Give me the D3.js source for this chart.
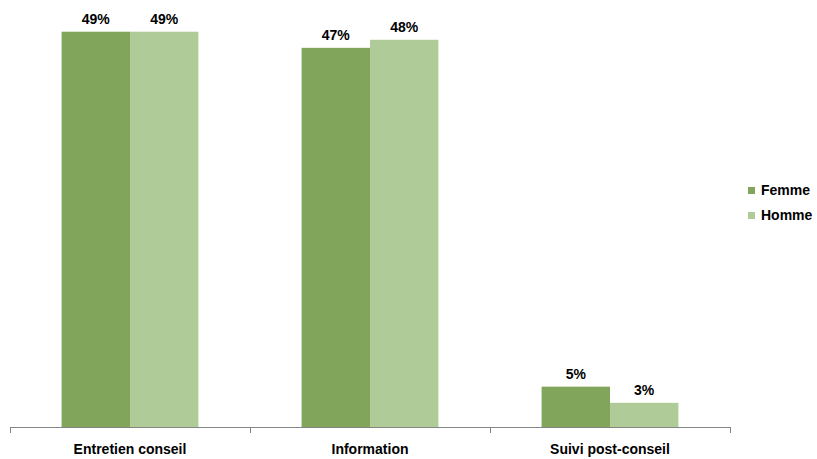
<!DOCTYPE html>
<html>
<head>
<meta charset="utf-8">
<script src="https://cdn.jsdelivr.net/npm/d3@7"></script>
<style>
  html, body { margin: 0; padding: 0; background: #fff; }
  svg text { font-family: "Liberation Sans", Arial, sans-serif; font-weight: bold; fill: #000; }
</style>
</head>
<body>
<svg id="chart" width="817" height="459"></svg>
<script>
const categories = ["Entretien conseil", "Information", "Suivi post-conseil"];
const seriesNames = ["Femme", "Homme"];
const femme = [49, 47, 5];
const homme = [49, 48, 3];
const colors = ["#80A55B", "#AECB98"];

const svg = d3.select("#chart");
const baseY = 427;
const left = 10, right = 730;

const x0 = d3.scaleBand().domain(categories).range([left, right]).padding(0);
const groupW = x0.bandwidth() * 0.57;
const x1 = d3.scaleBand().domain(seriesNames).range([0, groupW]).padding(0);
const y = d3.scaleLinear().domain([0, 49]).range([baseY, 31.7]);

const rows = categories.map((c, i) => ({ cat: c, vals: [femme[i], homme[i]] }));

const groups = svg.selectAll("g.grp").data(rows).join("g")
  .attr("class", "grp")
  .attr("transform", d => `translate(${x0(d.cat) + (x0.bandwidth() - groupW) / 2},0)`);

groups.selectAll("rect").data(d => d.vals.map((v, j) => ({ v, s: seriesNames[j], j })))
  .join("rect")
  .attr("x", d => x1(d.s))
  .attr("y", d => y(d.v))
  .attr("width", x1.bandwidth())
  .attr("height", d => baseY - y(d.v))
  .attr("fill", d => colors[d.j]);

groups.selectAll("text.val").data(d => d.vals.map((v, j) => ({ v, s: seriesNames[j] })))
  .join("text")
  .attr("class", "val")
  .attr("x", d => x1(d.s) + x1.bandwidth() / 2)
  .attr("y", d => y(d.v) - 7.5)
  .attr("text-anchor", "middle")
  .attr("font-size", 14)
  .text(d => d.v + "%");

// category axis with ticks on the band boundaries
const axis = svg.append("g");
axis.append("line")
  .attr("x1", left).attr("x2", right)
  .attr("y1", baseY + 0.5).attr("y2", baseY + 0.5)
  .attr("stroke", "#868686").attr("stroke-width", 1);
const bounds = categories.map(c => x0(c)).concat([x0(categories[categories.length - 1]) + x0.bandwidth()]);
axis.selectAll("line.tick").data(bounds).join("line")
  .attr("class", "tick")
  .attr("x1", d => Math.round(d) + 0.5).attr("x2", d => Math.round(d) + 0.5)
  .attr("y1", baseY).attr("y2", baseY + 6)
  .attr("stroke", "#868686");
axis.selectAll("text").data(categories).join("text")
  .attr("x", d => x0(d) + x0.bandwidth() / 2)
  .attr("y", 454)
  .attr("text-anchor", "middle")
  .attr("font-size", 14)
  .text(d => d);

// legend
const legend = svg.append("g").attr("transform", "translate(748,187)");
const li = legend.selectAll("g").data(seriesNames).join("g")
  .attr("transform", (d, i) => `translate(0,${i * 25})`);
li.append("rect").attr("width", 7).attr("height", 7).attr("fill", (d, i) => colors[i]);
li.append("text").attr("x", 13).attr("y", 8).attr("font-size", 14).text(d => d);
</script>
</body>
</html>
